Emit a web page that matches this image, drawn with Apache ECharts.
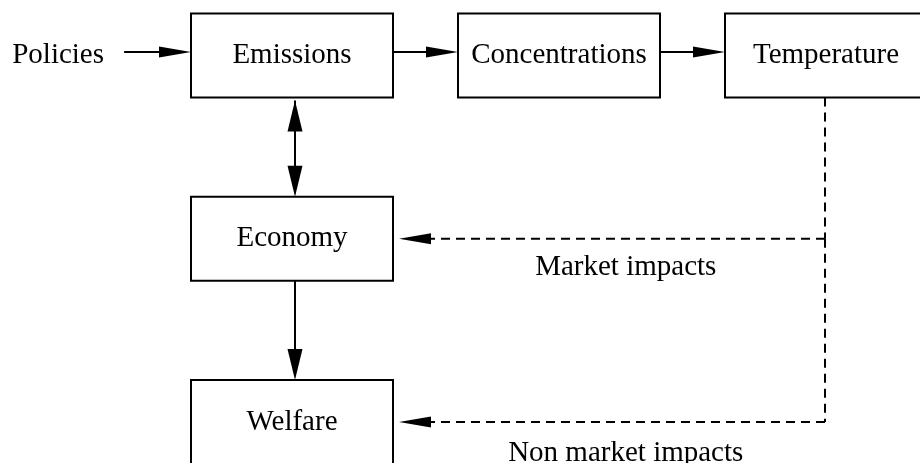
<!DOCTYPE html>
<html>
<head>
<meta charset="utf-8">
<script src="https://cdn.jsdelivr.net/npm/echarts@6/dist/echarts.min.js"></script>
<style>
  html, body { margin: 0; padding: 0; background: #fff; }
  #chart { width: 920px; height: 463px; }
</style>
</head>
<body>
<div id="chart"></div>
<script>
  // blocks and links of the diagram
  var boxNames = ['Emissions', 'Concentrations', 'Temperature', 'Economy', 'Welfare'];
  var sourceNames = ['Policies'];
  var flowLinks = [
    ['Policies', 'Emissions'],
    ['Emissions', 'Concentrations'],
    ['Concentrations', 'Temperature'],
    ['Emissions', 'Economy'],
    ['Economy', 'Welfare']
  ];
  var flowBothWays = [false, false, false, true, false];
  var impactLinks = [
    ['Temperature', 'Economy'],
    ['Temperature', 'Welfare']
  ];
  var impactNames = ['Market impacts', 'Non market impacts'];

  // layout: column / row slot of every block (x axis = column, y axis = row)
  var slot = {
    Policies: [-0.876, 0],
    Emissions: [0, 0],
    Concentrations: [1, 0],
    Temperature: [2, 0],
    Economy: [0, 1],
    Welfare: [0, 2]
  };
  var labelCol = 1.25;
  var labelDY = [29, 31];

  var BOX_W = 202, BOX_H = 84;
  var FONT = '29px "Liberation Serif", "Times New Roman", serif';
  var TEXT_DY = 0;
  var FLOW_DY = -3.5, FLOW_DX = 3;
  var SOURCE_HALF_W = 66;

  function halfW(name) {
    return sourceNames.indexOf(name) >= 0 ? SOURCE_HALF_W : BOX_W / 2;
  }

  function head(tx, ty, dir, len, half) {
    // dir: 'r' 'l' 'u' 'd' - direction the arrow points to
    var pts;
    if (dir === 'r') pts = [[tx, ty], [tx - len, ty - half], [tx - len, ty + half]];
    else if (dir === 'l') pts = [[tx, ty], [tx + len, ty - half], [tx + len, ty + half]];
    else if (dir === 'd') pts = [[tx, ty], [tx - half, ty - len], [tx + half, ty - len]];
    else pts = [[tx, ty], [tx - half, ty + len], [tx + half, ty + len]];
    return { type: 'polygon', shape: { points: pts }, style: { fill: '#000' } };
  }

  function line(x1, y1, x2, y2, dashed) {
    return {
      type: 'line',
      shape: { x1: x1, y1: y1, x2: x2, y2: y2 },
      style: { stroke: '#000', lineWidth: 2, lineDash: dashed ? [9, 6] : null }
    };
  }

  var chart = echarts.init(document.getElementById('chart'));

  var option = {
    animation: false,
    backgroundColor: '#fff',
    grid: { left: 292, right: 94, top: 55.5, bottom: 41 },
    xAxis: { type: 'value', min: 0, max: 2, show: false },
    yAxis: { type: 'value', min: 0, max: 2, inverse: true, show: false },
    series: [
      {
        // boxes
        type: 'custom',
        data: boxNames.map(function (n) { return slot[n]; }),
        renderItem: function (params, api) {
          var c = api.coord([api.value(0), api.value(1)]);
          return {
            type: 'group',
            children: [
              {
                type: 'rect',
                shape: { x: c[0] - BOX_W / 2, y: c[1] - BOX_H / 2, width: BOX_W, height: BOX_H },
                style: { fill: '#fff', stroke: '#000', lineWidth: 2 }
              },
              {
                type: 'text', x: c[0], y: c[1] + TEXT_DY,
                style: { text: boxNames[params.dataIndex], font: FONT, fill: '#000', align: 'center', verticalAlign: 'middle' }
              }
            ]
          };
        }
      },
      {
        // plain text inputs
        type: 'custom',
        data: sourceNames.map(function (n) { return slot[n]; }),
        renderItem: function (params, api) {
          var c = api.coord([api.value(0), api.value(1)]);
          return {
            type: 'text', x: c[0], y: c[1] + TEXT_DY,
            style: { text: sourceNames[params.dataIndex], font: FONT, fill: '#000', align: 'center', verticalAlign: 'middle' }
          };
        }
      },
      {
        // solid flows
        type: 'custom',
        data: flowLinks.map(function (l) { return slot[l[0]].concat(slot[l[1]]); }),
        renderItem: function (params, api) {
          var i = params.dataIndex;
          var a = api.coord([api.value(0), api.value(1)]);
          var b = api.coord([api.value(2), api.value(3)]);
          var kids = [];
          if (Math.abs(a[1] - b[1]) < 1) {
            var y = a[1] + FLOW_DY;
            var x1 = a[0] + halfW(flowLinks[i][0]);
            var x2 = b[0] - halfW(flowLinks[i][1]);
            kids.push(line(x1, y, x2 - 20, y));
            kids.push(head(x2, y, 'r', 32, 5.5));
          } else {
            var x = a[0] + FLOW_DX;
            var y1 = a[1] + BOX_H / 2;
            var y2 = b[1] - BOX_H / 2;
            if (flowBothWays[i]) {
              y1 += 3;
              kids.push(head(x, y1, 'u', 31, 7.5));
            }
            kids.push(line(x, y1, x, y2 - 10));
            kids.push(head(x, y2, 'd', 31, 7.5));
          }
          return { type: 'group', children: kids };
        }
      },
      {
        // dashed impact links
        type: 'custom',
        data: impactLinks.map(function (l) { return slot[l[0]].concat(slot[l[1]]); }),
        renderItem: function (params, api) {
          var i = params.dataIndex;
          var a = api.coord([api.value(0), api.value(1)]);
          var b = api.coord([api.value(2), api.value(3)]);
          var tx = a[0] - 1;
          var yStart = a[1] + BOX_H / 2;
          if (i > 0) yStart = api.coord(slot[impactLinks[i - 1][1]])[1];
          var tipX = b[0] + BOX_W / 2 + 6;
          var lc = api.coord([labelCol, api.value(3)]);
          return {
            type: 'group',
            children: [
              line(tx, yStart, tx, b[1], true),
              line(tx, b[1], tipX + 28, b[1], true),
              head(tipX, b[1], 'l', 32, 5.5),
              {
                type: 'text', x: lc[0], y: b[1] + labelDY[i],
                style: { text: impactNames[i], font: FONT, fill: '#000', align: 'center', verticalAlign: 'middle' }
              }
            ]
          };
        }
      }
    ]
  };

  chart.setOption(option);
</script>
</body>
</html>
